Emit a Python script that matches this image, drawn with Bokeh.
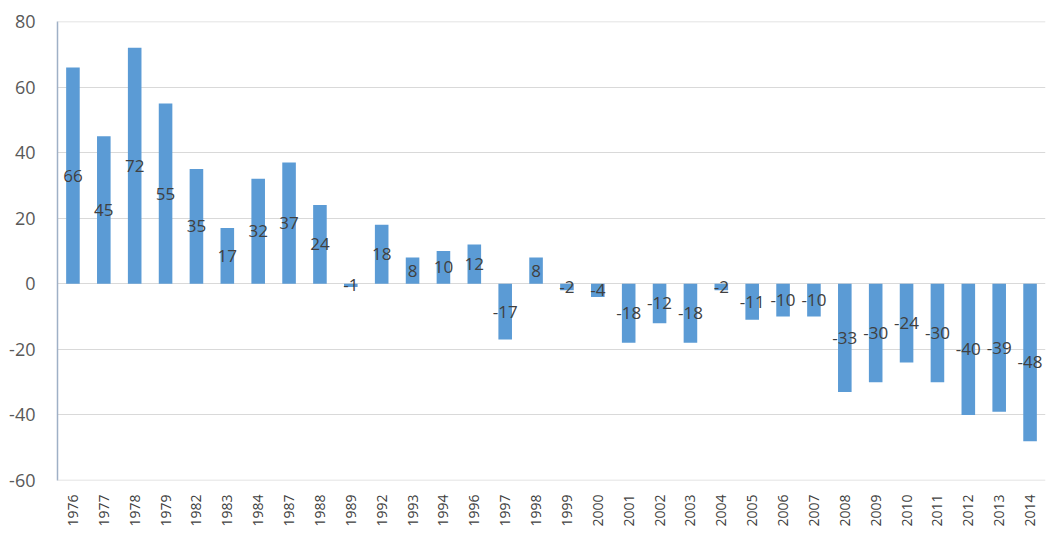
from bokeh.plotting import figure
from bokeh.models import FixedTicker, ColumnDataSource, Range1d, FactorRange, Span
from bokeh.core.properties import value
from bokeh.embed import file_html
from bokeh.resources import INLINE
import math

years = ["1976", "1977", "1978", "1979", "1982", "1983", "1984", "1987", "1988", "1989",
         "1992", "1993", "1994", "1996", "1997", "1998", "1999", "2000", "2001", "2002",
         "2003", "2004", "2005", "2006", "2007", "2008", "2009", "2010", "2011", "2012",
         "2013", "2014"]
values = [66, 45, 72, 55, 35, 17, 32, 37, 24, -1,
          18, 8, 10, 12, -17, 8, -2, -4, -18, -12,
          -18, -2, -11, -10, -10, -33, -30, -24, -30, -40,
          -39, -48]
y_ticks = [-60, -40, -20, 0, 20, 40, 60, 80]

src = ColumnDataSource(dict(
    x=years,
    top=values,
    mid=[v / 2 for v in values],
    lab=[str(v) for v in values],
))

p = figure(width=1047, height=529, x_range=FactorRange(*years, range_padding=0),
           y_range=Range1d(y_ticks[0], y_ticks[-1]), output_backend="svg", toolbar_location=None,
           min_border_left=57, min_border_top=21, min_border_bottom=46, min_border_right=2)
p.outline_line_color = None

for t in (y_ticks[0], y_ticks[-1]):
    p.add_layout(Span(location=t, dimension="width", line_color="#d9d9d9", line_width=1.5))

p.vbar(x="x", top="top", bottom=0, width=0.44, source=src,
       fill_color="#5B9BD5", line_color=None)
p.text(x="x", y="mid", text="lab", source=src, text_align="center", text_baseline="middle",
       text_font=value("Open Sans"), text_font_size="17px", text_color="#404040")

p.yaxis.ticker = FixedTicker(ticks=y_ticks)
p.yaxis.major_label_overrides = {t: str(t) for t in y_ticks}
p.yaxis.major_tick_line_color = None
p.yaxis.minor_tick_line_color = None
p.yaxis.axis_line_color = "#9fb0c6"
p.yaxis.axis_line_width = 1.5
p.yaxis.major_label_text_font = "Open Sans"
p.yaxis.major_label_text_font_size = "18px"
p.yaxis.major_label_text_color = "#595959"
p.yaxis.major_label_standoff = 16

p.xaxis.axis_line_color = None
p.xaxis.major_tick_line_color = None
p.xaxis.minor_tick_line_color = None
p.xaxis.major_label_orientation = math.pi / 2
p.xaxis.major_label_text_font = "Open Sans"
p.xaxis.major_label_text_font_size = "14px"
p.xaxis.major_label_text_color = "#404040"
p.xaxis.major_label_standoff = 8

p.xgrid.grid_line_color = None
p.ygrid.grid_line_color = "#d9d9d9"
p.ygrid.grid_line_width = 1

open("out.html", "w").write(file_html(p, INLINE))
